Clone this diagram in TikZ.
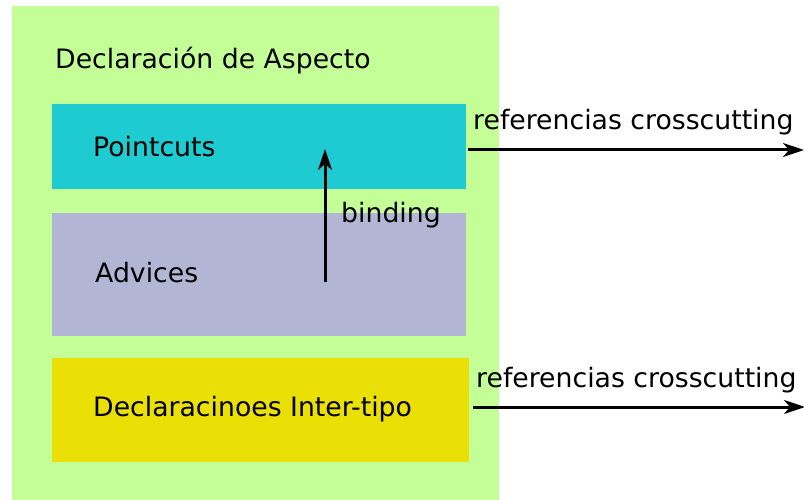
\documentclass[tikz,border=0pt]{standalone}
\usepackage{fontspec}
\setmainfont{DejaVu Sans}
\usetikzlibrary{arrows.meta}
\definecolor{aspectgreen}{HTML}{C4FE96}
\definecolor{pcyan}{HTML}{1DCBD0}
\definecolor{advlav}{HTML}{B2B6D4}
\definecolor{intyel}{HTML}{EBE006}
\tikzset{
  box/.style={draw=none,inner sep=0,outer sep=0,anchor=north west},
  lbl/.style={inner sep=0,anchor=base west,font=\fontsize{26.7}{31}\selectfont},
  conn/.style={line width=3pt,-{Stealth[length=21pt,width=14pt,inset=6pt]}}
}
\begin{document}
\begin{tikzpicture}[x=1pt,y=-1pt]
\useasboundingbox (0,0) rectangle (804,500);
\node[box,fill=aspectgreen,minimum width=487pt,minimum height=494pt] (aspect) at (12,6) {};
\node[box,fill=pcyan,minimum width=414pt,minimum height=85pt] (pointcuts) at (52,104) {};
\node[box,fill=advlav,minimum width=414pt,minimum height=123pt] (advices) at (52,213) {};
\node[box,fill=intyel,minimum width=417pt,minimum height=104pt] (inter) at (52,358) {};
\node[lbl] (taspect) at (55,68.5) {Declaración de Aspecto};
\node[lbl] (tpoint) at (93,156.5) {Pointcuts};
\node[lbl] (tadv) at (95,282.5) {Advices};
\node[lbl] (tinter) at (93,416.5) {Declaracinoes Inter-tipo};
\node[lbl] (tbind) at (341,222.5) {binding};
\node[lbl] (tref1) at (473,130) {referencias crosscutting};
\node[lbl] (tref2) at (476,387) {referencias crosscutting};
\coordinate (bindfrom) at (325,282);
\coordinate (bindto) at (325,149);
\coordinate (ref1end) at (804,150);
\coordinate (ref2end) at (805,407);
\draw[conn] (bindfrom) -- (bindto);
\draw[conn] (pointcuts.east |- ref1end) ++(2,0) -- (ref1end);
\draw[conn] (inter.east |- ref2end) ++(4,0) -- (ref2end);
\end{tikzpicture}
\end{document}
